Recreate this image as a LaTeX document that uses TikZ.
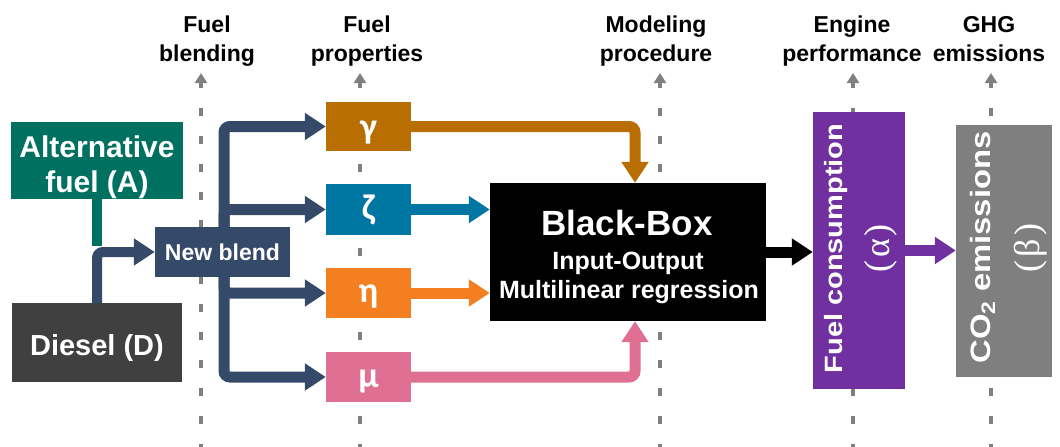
\documentclass[tikz,border=0pt]{standalone}
\usepackage{fontspec}
\setmainfont{Liberation Sans}
\newfontfamily\grkfont{Carlito}
\newfontfamily\symfont{Liberation Serif}
\usetikzlibrary{arrows.meta}
\definecolor{altc}{RGB}{0,112,96}
\definecolor{navyc}{RGB}{52,74,104}
\definecolor{dieselc}{RGB}{64,64,64}
\definecolor{gamc}{RGB}{184,110,0}
\definecolor{zetc}{RGB}{0,119,163}
\definecolor{etac}{RGB}{244,127,32}
\definecolor{muc}{RGB}{224,112,147}
\definecolor{purc}{RGB}{112,48,160}
\definecolor{co2c}{RGB}{127,127,127}
\definecolor{dotc}{RGB}{128,128,128}
\pgfdeclarelayer{bg}
\pgfdeclarelayer{mid}
\pgfsetlayers{bg,mid,main}
\tikzset{
  box/.style={rectangle, inner sep=0pt, draw=none},
  wtxt/.style={inner sep=0pt, text=white, anchor=base},
  lab/.style={inner sep=0pt, anchor=north, align=center, font=\fontsize{23}{29}\selectfont\bfseries},
  guide/.style={draw=dotc, line width=4pt, dash pattern=on 8pt off 20pt, -{Triangle[length=10pt,width=12pt]}},
  flow/.style={line width=11pt, rounded corners=6pt, -{Triangle[length=21pt,width=26pt]}},
  grk/.style={inner sep=0pt, text=white, anchor=base, font=\grkfont\bfseries\fontsize{36}{36}\selectfont},
  rot/.style={inner sep=0pt, text=white, anchor=base, rotate=90},
  symb/.style={rot, font=\symfont\fontsize{36}{36}\selectfont},
}
\begin{document}
\begin{tikzpicture}[x=1pt,y=1pt]
\useasboundingbox (0,0) rectangle (1060,-447);

% stage labels
\node[lab] (l1) at (207,-16) {Fuel\\blending};
\node[lab] (l2) at (367,-16) {Fuel\\properties};
\node[lab] (l3) at (656,-16) {Modeling\\procedure};
\node[lab] (l4) at (852,-16) {Engine\\performance};
\node[lab] (l5) at (989,-16) {GHG\\emissions};

% boxes
\node[box, fill=altc, minimum width=172pt, minimum height=77pt] (alt) at (97,-160.5) {};
\node[wtxt, font=\fontsize{30}{30}\selectfont\bfseries] (altt1) at (97,-157) {Alternative};
\node[wtxt, font=\fontsize{30}{30}\selectfont\bfseries] (altt2) at (97,-192) {fuel (A)};

\node[box, fill=dieselc, minimum width=170pt, minimum height=79pt] (dies) at (97,-342.5) {};
\node[wtxt, font=\fontsize{29}{29}\selectfont\bfseries] (diest) at (97,-355) {Diesel (D)};

\node[box, fill=navyc, minimum width=135pt, minimum height=50pt, text=white, font=\fontsize{23}{23}\selectfont\bfseries] (nb) at (222.5,-252) {New blend};

\node[box, fill=gamc, minimum width=85pt, minimum height=49pt] (gam) at (368.5,-126.5) {};
\node[box, fill=zetc, minimum width=85pt, minimum height=51pt] (zet) at (368.5,-209.5) {};
\node[box, fill=etac, minimum width=85pt, minimum height=50pt] (eta) at (368.5,-293) {};
\node[box, fill=muc, minimum width=85pt, minimum height=50pt] (mu) at (368.5,-377) {};
\node[grk] (gamt) at (368.5,-138) {γ};
\node[grk] (zett) at (368.5,-219) {ζ};
\node[grk] (etat) at (368.5,-302) {η};
\node[grk] (mut) at (368.5,-387) {μ};

\node[box, fill=black, minimum width=276pt, minimum height=138pt] (bb) at (628,-252) {};
\node[wtxt, font=\fontsize{35}{35}\selectfont\bfseries] (bbt1) at (627,-235) {Black-Box};
\node[wtxt, font=\fontsize{25}{25}\selectfont\bfseries] (bbt2) at (628,-269) {Input-Output};
\node[wtxt, font=\fontsize{25}{25}\selectfont\bfseries] (bbt3) at (629,-298) {Multilinear regression};

\node[box, fill=purc, minimum width=92pt, minimum height=277pt] (pur) at (859,-250.5) {};
\node[rot, font=\fontsize{25}{25}\selectfont\bfseries] (purt1) at (842,-248.5) {\scalebox{1.16}[1]{Fuel consumption}};
\node[symb] (purt2) at (889,-248.5) {(\kern3pt α\kern3pt)};

\node[box, fill=co2c, minimum width=96pt, minimum height=252pt] (co2) at (1004,-251) {};
\node[rot, font=\fontsize{28}{28}\selectfont\bfseries] (co2t1) at (990,-247.5) {\scalebox{1.17}[1]{CO\textsubscript{2} emissions}};
\node[symb] (co2t2) at (1039,-248) {(\kern3pt β\kern3pt)};

% guide coordinates
\coordinate (g1b) at (201,-452); \coordinate (g1t) at (201,-73);
\coordinate (g2b) at (360,-452); \coordinate (g2t) at (360,-73);
\coordinate (g3b) at (660,-452); \coordinate (g3t) at (660,-73);
\coordinate (g4b) at (853,-452); \coordinate (g4t) at (853,-73);
\coordinate (g5b) at (991,-452); \coordinate (g5t) at (991,-73);
\coordinate (jt) at (97,-246);
\coordinate (bus) at (224,-252);

\begin{pgfonlayer}{bg}
\draw[guide] (g1b) -- (g1t);
\draw[guide] (g2b) -- (g2t);
\draw[guide] (g3b) -- (g3t);
\draw[guide] (g4b) -- (g4t);
\draw[guide] (g5b) -- (g5t);
\end{pgfonlayer}

\begin{pgfonlayer}{mid}
\draw[altc, line width=10pt] (alt.south) -- (jt);
\draw[navyc, flow, line width=10pt] (dies.north) |- (nb.west);
\draw[navyc, flow] (bus) |- (gam.west);
\draw[navyc, flow] (bus) |- (zet.west);
\draw[navyc, flow] (bus) |- (eta.west);
\draw[navyc, flow] (bus) |- (mu.west);
\draw[gamc, flow] (gam.east) -| ([xshift=7pt]bb.north);
\draw[zetc, flow] (zet.east) -- (zet.east -| bb.west);
\draw[etac, flow] (eta.east) -- (eta.east -| bb.west);
\draw[muc, flow] (mu.east) -| ([xshift=7pt]bb.south);
\draw[black, flow] (bb.east) -- (bb.east -| pur.west);
\draw[purc, flow] (pur.east) -- (pur.east -| co2.west);
\end{pgfonlayer}
\end{tikzpicture}
\end{document}
